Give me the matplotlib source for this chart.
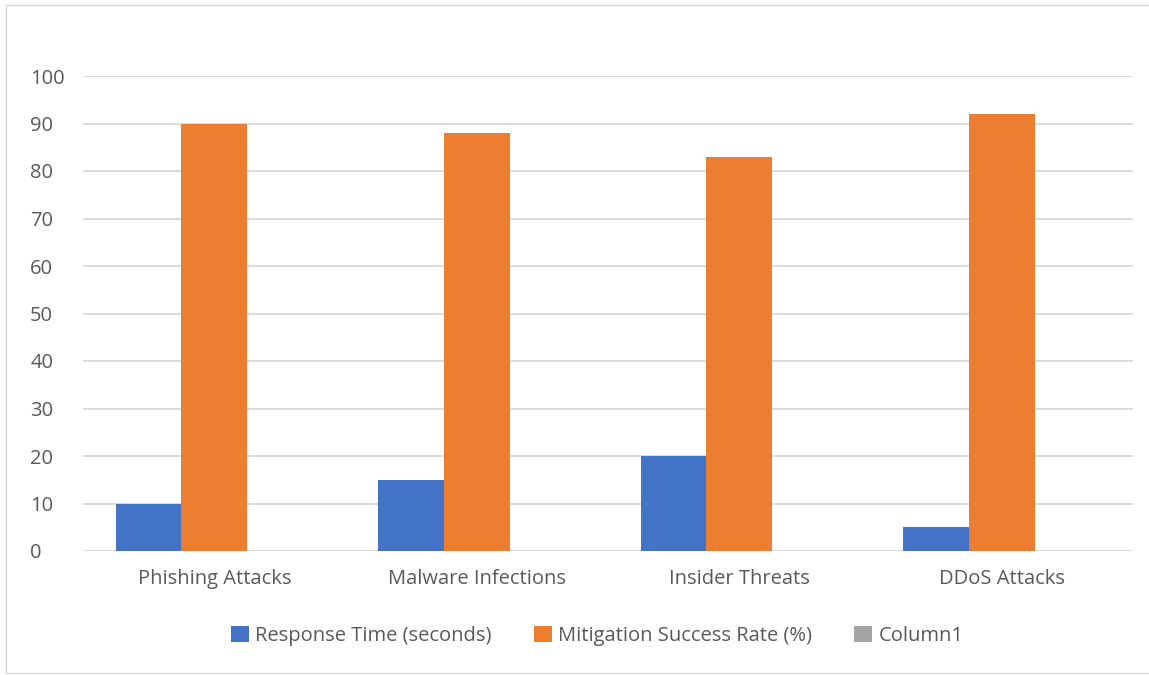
import numpy as np
import matplotlib.pyplot as plt
from matplotlib.patches import Rectangle

# incident categories and the three series
categories = ['Phishing Attacks', 'Malware Infections', 'Insider Threats', 'DDoS Attacks']
response_time = [10, 15, 20, 5]
mitigation_rate = [90, 88, 83, 92]
column1 = [np.nan, np.nan, np.nan, np.nan]

series = [
    ('Response Time (seconds)', response_time, '#4472c4'),
    ('Mitigation Success Rate (%)', mitigation_rate, '#ed7d31'),
    ('Column1', column1, '#a5a5a5'),
]

plt.rcParams['font.family'] = ['Open Sans', 'DejaVu Sans']
text_color = '#595959'
fs = 14.5

fig = plt.figure(figsize=(11.49, 6.75), dpi=100)
ax = fig.add_axes([83 / 1149, 1 - 551 / 675, 1050 / 1149, 475 / 675])

x = np.arange(len(categories))
width = 0.25
for i, (name, vals, color) in enumerate(series):
    ax.bar(x + (i - 1) * width, vals, width, color=color, label=name, zorder=3)

ax.set_xlim(-0.5, len(categories) - 0.5)
ax.set_ylim(0, 100)
ax.set_yticks(range(0, 101, 10))
ax.set_xticks(x)
ax.set_xticklabels(categories)
ax.yaxis.grid(True, color='#d9d9d9', linewidth=1.3, zorder=0)
ax.tick_params(axis='both', length=0, labelsize=fs, labelcolor=text_color)
ax.tick_params(axis='x', pad=13)
ax.tick_params(axis='y', pad=38)
for lbl in ax.get_yticklabels():
    lbl.set_horizontalalignment('left')
for s in ax.spines.values():
    s.set_visible(False)

leg = fig.legend(loc='center', bbox_to_anchor=(597 / 1149, 1 - 636 / 675), ncol=3,
                 frameon=False, fontsize=fs, handlelength=0.9, handleheight=0.85,
                 handletextpad=0.3, columnspacing=2.1)
for t in leg.get_texts():
    t.set_color(text_color)

# light chart-area border
fig.patches.append(Rectangle((6 / 1149, 1 - 673 / 675), 1160 / 1149, 668 / 675,
                             transform=fig.transFigure, fill=False,
                             edgecolor='#d9d9d9', linewidth=1))

fig.savefig('out.png', dpi=100)
